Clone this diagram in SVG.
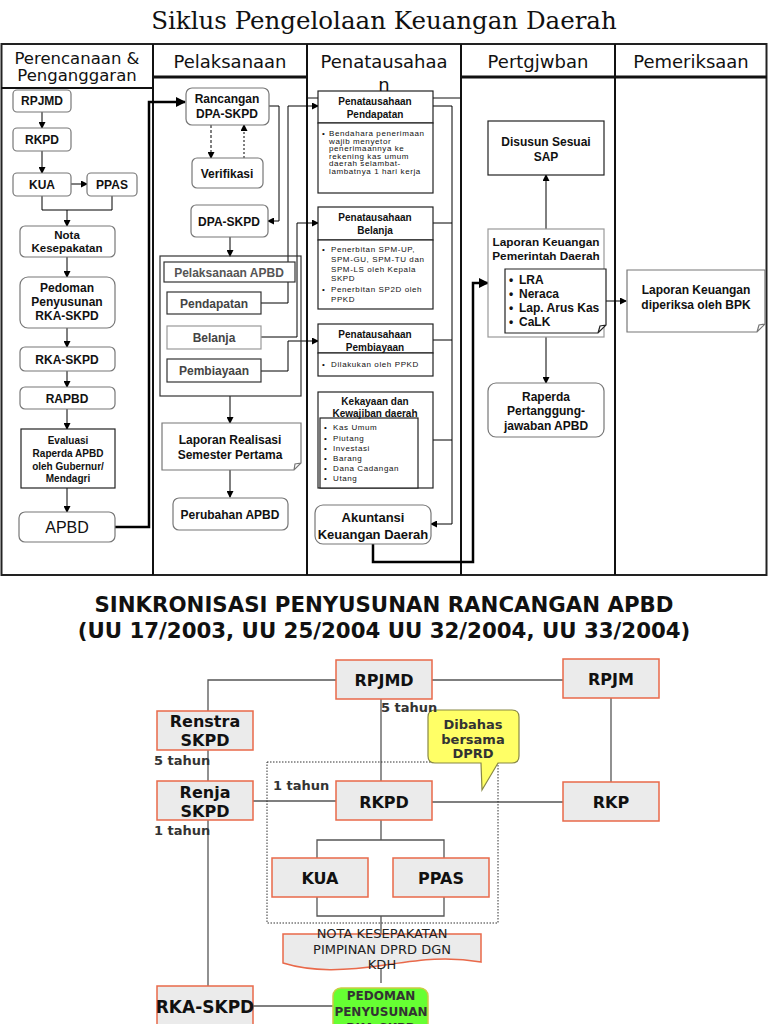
<svg xmlns="http://www.w3.org/2000/svg" width="768" height="1024" viewBox="0 0 768 1024">
<defs>
<marker id="a" markerWidth="7" markerHeight="7" refX="6" refY="3.5" orient="auto" markerUnits="userSpaceOnUse"><path d="M0,0 L7,3.5 L0,7 z" fill="#000"/></marker>
<marker id="ab" markerWidth="10" markerHeight="10" refX="9" refY="5" orient="auto" markerUnits="userSpaceOnUse"><path d="M0,0 L10,5 L0,10 z" fill="#000"/></marker>
<style>
.ttl{font-family:"DejaVu Serif",serif;font-size:24.5px;text-anchor:middle;fill:#111}
.hdr{font-family:"DejaVu Sans",sans-serif;font-size:18px;text-anchor:middle;fill:#111}
.lane{fill:none;stroke:#111;stroke-width:2}
.nb{fill:#fff;stroke:#777;stroke-width:1.2}
.nd{fill:#fff;stroke:#222;stroke-width:1.2}
.t{font-family:"Liberation Sans",Arial,sans-serif;font-weight:bold;font-size:12px;text-anchor:middle;fill:#111}
.s9{font-size:10px}
.s7{font-family:"Liberation Sans",Arial,sans-serif;font-size:8px;letter-spacing:0.6px;fill:#111}
.c{fill:none;stroke:#000;stroke-width:1;marker-end:url(#a)}
.l{fill:none;stroke:#000;stroke-width:1}
.cb{fill:none;stroke:#000;stroke-width:2.5;marker-end:url(#ab)}
.bt{font-family:"DejaVu Sans",sans-serif;font-weight:bold;font-size:21.3px;text-anchor:middle;fill:#111}
.on{fill:#ebebeb;stroke:#e9694a;stroke-width:1.5}
.ot{font-family:"DejaVu Sans",sans-serif;font-weight:bold;font-size:16px;text-anchor:middle;fill:#111}
.g{fill:none;stroke:#555;stroke-width:1.3}
.lab{font-family:"DejaVu Sans",sans-serif;font-weight:bold;font-size:13px;fill:#333}
</style>
</defs>
<rect width="768" height="1024" fill="#fff"/>
<text class="ttl" x="384" y="29">Siklus Pengelolaan Keuangan Daerah</text>

<g id="lanes">
<rect x="1.5" y="44" width="765" height="531" fill="none" stroke="#222" stroke-width="2"/>
<path class="lane" d="M153,44 V575 M307,44 V575 M461,44 V575 M615,44 V575"/>
<path fill="none" stroke="#111" stroke-width="2" d="M1,88 H153"/>
<path fill="none" stroke="#111" stroke-width="3" d="M153,77 H307 M461,77 H767"/>
<path fill="none" stroke="#111" stroke-width="1" d="M307,98 H461"/>
<text class="hdr" x="77" y="64" style="font-size:16.5px">Perencanaan &amp;</text>
<text class="hdr" x="77" y="81" style="font-size:16.5px">Penganggaran</text>
<text class="hdr" x="230" y="68">Pelaksanaan</text>
<text class="hdr" x="384" y="68">Penatausahaa</text>
<text class="hdr" x="384" y="91">n</text>
<text class="hdr" x="538" y="68">Pertgjwban</text>
<text class="hdr" x="691" y="68">Pemeriksaan</text>
</g>

<g id="connectors">
<path class="c" d="M42,112 V128"/>
<path class="c" d="M42,151 V173"/>
<path class="c" d="M71,184 H87"/>
<path class="l" d="M42,196 V210 H112 V196"/>
<path class="c" d="M67,210 V226"/>
<path class="c" d="M67,257 V277"/>
<path class="c" d="M67,328 V347"/>
<path class="c" d="M67,371 V387"/>
<path class="c" d="M67,409 V429"/>
<path class="c" d="M67,488 V512"/>
<path class="cb" d="M115,527 H149 V102 H185"/>
<path class="c" d="M211,125 V158" stroke-dasharray="3,2"/>
<path class="c" d="M244,158 V125" stroke-dasharray="2,2"/>
<path class="c" d="M269,106 H279 V221 H268"/>
<path class="c" d="M230,237 V256"/>
<path class="c" d="M261,303 H288 V106 H318"/>
<path class="c" d="M261,337 H297 V223 H318"/>
<path class="c" d="M261,371 H288 V341 H318"/>
<path class="c" d="M230,396 V423"/>
<path class="c" d="M230,470 V497"/>
<path class="c" d="M433,106 H452 V524 H431"/>
<path class="l" d="M433,223 H452 M433,340 H452 M433,440 H452"/>
<path class="cb" d="M373,544 V562 H473 V283 H488"/>
<path class="c" d="M546,229 V175"/>
<path class="c" d="M606,301 H626"/>
<path class="c" d="M546,337 V383"/>
</g>

<g id="n-rpjmd"><rect class="nb" x="13" y="90" width="58" height="22" rx="4"/><text class="t" x="42" y="105">RPJMD</text></g>
<g id="n-rkpd"><rect class="nb" x="13" y="128" width="58" height="23" rx="4"/><text class="t" x="42" y="144">RKPD</text></g>
<g id="n-kua"><rect class="nb" x="13" y="173" width="58" height="23" rx="4"/><text class="t" x="42" y="189">KUA</text></g>
<g id="n-ppas"><rect class="nb" x="87" y="173" width="50" height="23" rx="4"/><text class="t" x="112" y="189">PPAS</text></g>
<g id="n-nota"><rect class="nb" x="20" y="226" width="95" height="31" rx="5"/><text class="t" x="67" y="239" style="font-size:11.5px">Nota</text><text class="t" x="67" y="252" style="font-size:11.5px">Kesepakatan</text></g>
<g id="n-pedoman"><rect class="nb" x="20" y="277" width="95" height="51" rx="8"/><text class="t" x="67" y="292">Pedoman</text><text class="t" x="67" y="306">Penyusunan</text><text class="t" x="67" y="320">RKA-SKPD</text></g>
<g id="n-rka"><rect class="nb" x="20" y="347" width="95" height="24" rx="5"/><text class="t" x="67" y="364">RKA-SKPD</text></g>
<g id="n-rapbd"><rect class="nb" x="20" y="387" width="95" height="22" rx="5"/><text class="t" x="67" y="403">RAPBD</text></g>
<g id="n-evaluasi"><rect class="nd" x="21" y="429" width="94" height="59"/><text class="t s9" x="68" y="444">Evaluasi</text><text class="t s9" x="68" y="457">Raperda APBD</text><text class="t s9" x="68" y="470">oleh Gubernur/</text><text class="t s9" x="68" y="482">Mendagri</text></g>
<g id="n-apbd"><rect class="nb" x="19" y="512" width="96" height="30" rx="6"/><text class="t" x="67" y="533" style="font-size:16px;font-weight:normal">APBD</text></g>

<g id="n-rancangan"><rect class="nb" x="186" y="88" width="83" height="37" rx="6"/><text class="t" x="227" y="103">Rancangan</text><text class="t" x="227" y="118">DPA-SKPD</text></g>
<g id="n-verifikasi"><rect class="nb" x="192" y="158" width="71" height="30" rx="5"/><text class="t" x="227" y="178">Verifikasi</text></g>
<g id="n-dpa"><rect class="nb" x="191" y="205" width="77" height="32" rx="5"/><text class="t" x="229" y="226">DPA-SKPD</text></g>
<g id="n-pelaksanaan-apbd">
<rect x="160" y="256" width="141" height="140" fill="none" stroke="#333" stroke-width="1.2"/>
<rect x="164" y="262" width="131" height="20" fill="#fff" stroke="#333" stroke-width="1.2"/>
<text class="t" x="229" y="277" style="fill:#555">Pelaksanaan APBD</text>
<rect x="167" y="292" width="94" height="22" fill="#fff" stroke="#333" stroke-width="1.2"/><text class="t" x="214" y="308" style="fill:#444">Pendapatan</text>
<rect x="167" y="326" width="94" height="23" fill="#fff" stroke="#999" stroke-width="1.2"/><text class="t" x="214" y="342" style="fill:#444">Belanja</text>
<rect x="167" y="359" width="94" height="23" fill="#fff" stroke="#333" stroke-width="1.2"/><text class="t" x="214" y="375" style="fill:#444">Pembiayaan</text>
</g>
<g id="n-laporan-realisasi"><path class="nb" d="M162,423 H301 V463 L294,470 H162 Z M294,470 L295,464 L301,463"/><text class="t" x="230" y="444">Laporan Realisasi</text><text class="t" x="230" y="459">Semester Pertama</text></g>
<g id="n-perubahan"><rect class="nb" x="173" y="498" width="115" height="32" rx="6"/><text class="t" x="230" y="519">Perubahan APBD</text></g>

<g id="n-pt-pendapatan">
<rect class="nd" x="318" y="91" width="115" height="32"/><rect class="nd" x="318" y="123" width="115" height="70"/>
<text class="t s9" x="375" y="105">Penatausahaan</text><text class="t s9" x="375" y="118">Pendapatan</text>
<text class="s7"><tspan x="322" y="136">•</tspan><tspan x="329" y="136">Bendahara penerimaan</tspan><tspan x="329" y="144">wajib menyetor</tspan><tspan x="329" y="151">penerimaannya ke</tspan><tspan x="329" y="159">rekening kas umum</tspan><tspan x="329" y="166">daerah selambat-</tspan><tspan x="329" y="174">lambatnya 1 hari kerja</tspan></text>
</g>
<g id="n-pt-belanja">
<rect class="nd" x="318" y="207" width="115" height="33"/><rect class="nd" x="318" y="240" width="115" height="69"/>
<text class="t s9" x="375" y="221">Penatausahaan</text><text class="t s9" x="375" y="234">Belanja</text>
<text class="s7"><tspan x="322" y="252">•</tspan><tspan x="331" y="252">Penerbitan SPM-UP,</tspan><tspan x="331" y="262">SPM-GU, SPM-TU dan</tspan><tspan x="331" y="272">SPM-LS oleh Kepala</tspan><tspan x="331" y="281">SKPD</tspan><tspan x="322" y="292">•</tspan><tspan x="331" y="292">Penerbitan SP2D oleh</tspan><tspan x="331" y="302">PPKD</tspan></text>
</g>
<g id="n-pt-pembiayaan">
<rect class="nd" x="318" y="324" width="115" height="29"/><rect class="nd" x="318" y="353" width="115" height="23"/>
<text class="t s9" x="375" y="338">Penatausahaan</text><text class="t s9" x="375" y="351">Pembiayaan</text>
<text class="s7"><tspan x="322" y="367">•</tspan><tspan x="331" y="367">Dilakukan oleh PPKD</tspan></text>
</g>
<g id="n-kekayaan">
<rect class="nd" x="318" y="392" width="115" height="96"/><rect class="nd" x="320" y="418" width="98" height="70"/>
<text class="t s9" x="375" y="405">Kekayaan dan</text><text class="t s9" x="375" y="417">Kewajiban daerah</text>
<text class="s7"><tspan x="324" y="430">•</tspan><tspan x="333" y="430">Kas Umum</tspan><tspan x="324" y="441">•</tspan><tspan x="333" y="441">Piutang</tspan><tspan x="324" y="451">•</tspan><tspan x="333" y="451">Investasi</tspan><tspan x="324" y="461">•</tspan><tspan x="333" y="461">Barang</tspan><tspan x="324" y="471">•</tspan><tspan x="333" y="471">Dana Cadangan</tspan><tspan x="324" y="481">•</tspan><tspan x="333" y="481">Utang</tspan></text>
</g>
<g id="n-akuntansi"><rect class="nb" x="315" y="505" width="116" height="39" rx="8"/><text class="t" x="373" y="522" style="font-size:13px">Akuntansi</text><text class="t" x="373" y="539" style="font-size:13px">Keuangan Daerah</text></g>

<g id="n-sap"><rect class="nd" x="488" y="121" width="116" height="54"/><text class="t" x="546" y="146">Disusun Sesuai</text><text class="t" x="546" y="161">SAP</text></g>
<g id="n-lkpd">
<rect x="488" y="229" width="116" height="108" fill="#fff" stroke="#999" stroke-width="1.2"/>
<text class="t" x="546" y="246" style="font-size:11.8px">Laporan Keuangan</text><text class="t" x="546" y="260" style="font-size:11.8px">Pemerintah Daerah</text>
<path class="nd" d="M505,269 H606 V325 L598,333 H505 Z M598,333 L600,326 L606,325"/>
<text class="t" style="text-anchor:start"><tspan x="509" y="284">•</tspan><tspan x="519" y="284">LRA</tspan><tspan x="509" y="298">•</tspan><tspan x="519" y="298">Neraca</tspan><tspan x="509" y="312">•</tspan><tspan x="519" y="312">Lap. Arus Kas</tspan><tspan x="509" y="326">•</tspan><tspan x="519" y="326">CaLK</tspan></text>
</g>
<g id="n-bpk"><path class="nb" d="M627,270 H765 V324 L757,332 H627 Z M757,332 L759,325 L765,324"/><text class="t" x="696" y="294">Laporan Keuangan</text><text class="t" x="696" y="309">diperiksa oleh BPK</text></g>
<g id="n-raperda"><rect class="nb" x="488" y="383" width="116" height="54" rx="8"/><text class="t" x="546" y="401">Raperda</text><text class="t" x="546" y="415">Pertanggung-</text><text class="t" x="546" y="430">jawaban APBD</text></g>

<text class="bt" x="384" y="612">SINKRONISASI PENYUSUNAN RANCANGAN APBD</text>
<text class="bt" x="384" y="638">(UU 17/2003, UU 25/2004 UU 32/2004, UU 33/2004)</text>

<g id="connectors-2">
<path class="g" d="M336,680 H208 V711"/>
<path class="g" d="M432,680 H563"/>
<path class="g" d="M611,698 V782"/>
<path class="g" d="M381,699 V781"/>
<path class="g" d="M208,750 V781"/>
<path class="g" d="M208,820 V986"/>
<path class="g" d="M253,801 H336"/>
<path class="g" d="M432,802 H563"/>
<path class="g" d="M381,820 V840 M317,858 V840 H444 V858"/>
<path class="g" d="M317,897 V916 H444 V897 M381,916 V934"/>
<path class="g" d="M381,968 V983"/>
<path class="g" d="M253,1006 H333"/>
</g>
<rect id="dotted-group" x="267" y="762" width="231" height="161" fill="none" stroke="#333" stroke-width="1" stroke-dasharray="1.5,1.5"/>

<g id="b-rpjmd"><rect class="on" x="336" y="660" width="96" height="39"/><text class="ot" x="384" y="686">RPJMD</text></g>
<g id="b-rpjm"><rect class="on" x="563" y="659" width="96" height="39"/><text class="ot" x="611" y="685">RPJM</text></g>
<g id="b-renstra"><rect class="on" x="157" y="711" width="96" height="39"/><text class="ot" x="205" y="727">Renstra</text><text class="ot" x="205" y="746">SKPD</text></g>
<g id="b-renja"><rect class="on" x="157" y="781" width="96" height="39"/><text class="ot" x="205" y="798">Renja</text><text class="ot" x="205" y="817">SKPD</text></g>
<g id="b-rkpd"><rect class="on" x="336" y="781" width="96" height="39"/><text class="ot" x="384" y="808">RKPD</text></g>
<g id="b-rkp"><rect class="on" x="563" y="782" width="96" height="39"/><text class="ot" x="611" y="808">RKP</text></g>
<g id="b-kua"><rect class="on" x="272" y="858" width="96" height="39"/><text class="ot" x="320" y="884">KUA</text></g>
<g id="b-ppas"><rect class="on" x="393" y="858" width="96" height="39"/><text class="ot" x="441" y="884">PPAS</text></g>
<g id="b-nota"><path class="on" d="M283,934 H481 V962 C445,956 420,960 385,965 C345,971 312,972 283,963 Z"/><text class="ot" x="382" y="938" style="font-weight:normal;font-size:13px;fill:#222">NOTA KESEPAKATAN</text><text class="ot" x="382" y="954" style="font-weight:normal;font-size:13px;fill:#222">PIMPINAN DPRD DGN</text><text class="ot" x="382" y="969" style="font-weight:normal;font-size:13px;fill:#222">KDH</text></g>
<g id="b-rkaskpd"><rect class="on" x="157" y="986" width="96" height="50"/><text class="ot" x="205" y="1013" style="font-size:17px">RKA-SKPD</text></g>
<g id="b-pedoman"><rect x="333" y="988" width="95" height="50" rx="8" fill="#66ff33" stroke="#cccc44" stroke-width="1.5"/><text class="ot" x="381" y="1000" style="font-size:12px;fill:#333">PEDOMAN</text><text class="ot" x="381" y="1016" style="font-size:12px;fill:#333">PENYUSUNAN</text><text class="ot" x="381" y="1032" style="font-size:12px;fill:#333">RKA-SKPD</text></g>
<g id="b-dibahas"><path d="M435,710 H512 Q519,710 519,717 V756 Q519,763 512,763 H498 L482,790 L481,763 H435 Q428,763 428,756 V717 Q428,710 435,710 Z" fill="#ffff66" stroke="#888844" stroke-width="1.2"/><text class="ot" x="473" y="729" style="font-size:13px;fill:#333">Dibahas</text><text class="ot" x="473" y="744" style="font-size:13px;fill:#333">bersama</text><text class="ot" x="473" y="758" style="font-size:13px;fill:#333">DPRD</text></g>

<g id="labels">
<text class="lab" x="381" y="712">5 tahun</text>
<text class="lab" x="154" y="765">5 tahun</text>
<text class="lab" x="273" y="790">1 tahun</text>
<text class="lab" x="154" y="835">1 tahun</text>
</g>
</svg>
